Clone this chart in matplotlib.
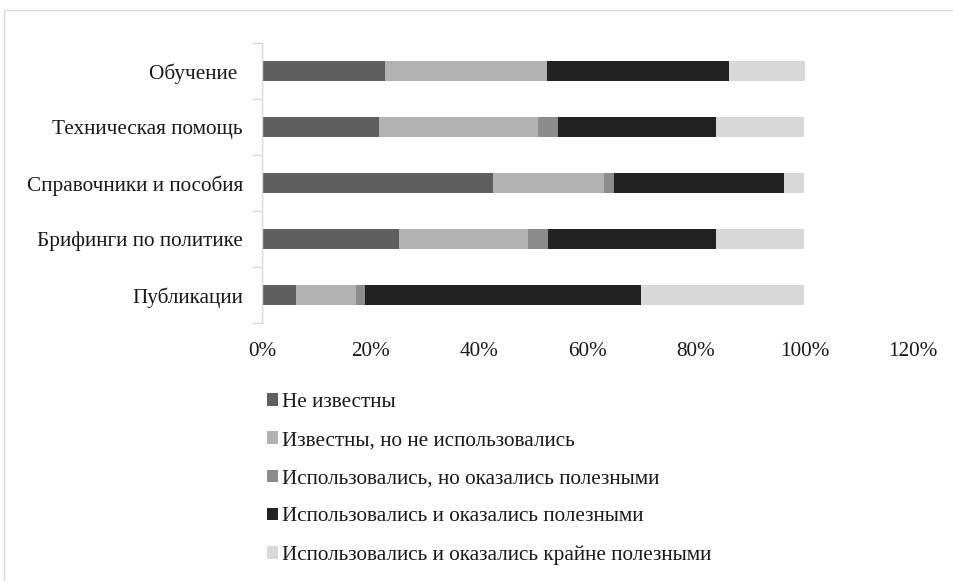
import matplotlib
matplotlib.use("Agg")
import matplotlib.pyplot as plt
from matplotlib.patches import Rectangle
import numpy as np

categories = ["Публикации", "Брифинги по политике", "Справочники и пособия",
              "Техническая помощь", "Обучение "]
series_names = ["Не известны", "Известны, но не использовались",
                "Использовались, но оказались полезными",
                "Использовались и оказались полезными",
                "Использовались и оказались крайне полезными"]
not_known = [6.2, 25.3, 42.5, 21.6, 22.7]
known_not_used = [11.2, 23.7, 20.6, 29.2, 29.9]
used_useful_but = [1.6, 3.7, 1.7, 3.7, 0.0]
used_useful = [50.9, 30.9, 31.5, 29.1, 33.4]
used_very_useful = [30.1, 16.4, 3.7, 16.4, 14.0]
xticks = [0, 20, 40, 60, 80, 100, 120]
xtick_labels = ["0%", "20%", "40%", "60%", "80%", "100%", "120%"]

colors = ["#5f5f5f", "#b2b2b2", "#8c8c8c", "#222222", "#d9d9d9"]
series = [not_known, known_not_used, used_useful_but, used_useful, used_very_useful]

plt.rcParams['font.family'] = ['Liberation Serif', 'DejaVu Serif']
FS = 15.3

fig = plt.figure(figsize=(9.54, 5.81), dpi=100)
ax = fig.add_axes([262/954, 1-323/581, (913-262)/954, (323-43)/581])

y = np.arange(len(categories))
left = np.zeros(len(categories))
handles = []
for vals, c, name in zip(series, colors, series_names):
    b = ax.barh(y, vals, left=left, height=0.35, color=c, label=name,
                edgecolor='none')
    handles.append(b)
    left = left + np.array(vals)

ax.set_xlim(0, 120)
ax.set_ylim(-0.5, len(categories) - 0.5)
ax.set_xticks(xticks)
ax.set_xticklabels(xtick_labels, fontsize=FS, color='#1a1a1a')
ax.tick_params(axis='x', length=0, pad=13.5)

ax.set_yticks(np.arange(-0.5, len(categories), 1.0))
ax.set_yticklabels([])
ax.set_yticks(y, minor=True)
ax.set_yticklabels(categories, minor=True, fontsize=FS, color='#1a1a1a')
ax.tick_params(axis='y', which='major', length=7, width=1, color='#d9d9d9', direction='out')
ax.tick_params(axis='y', which='minor', length=0, pad=13.7)

for s in ['top', 'right', 'bottom']:
    ax.spines[s].set_visible(False)
ax.spines['left'].set_color('#d9d9d9')
ax.spines['left'].set_linewidth(1)

leg = fig.legend(handles=handles, labels=series_names, loc='upper left',
                 bbox_to_anchor=(267/954, 1-393/581), frameon=False,
                 fontsize=FS, handlelength=0.52, handleheight=0.52,
                 handletextpad=0.2, labelspacing=0.90, borderpad=0,
                 borderaxespad=0)
for t in leg.get_texts():
    t.set_color('#1a1a1a')

fig.patches.append(Rectangle((4/954, -0.1), 1.0, 1.1-10/581, transform=fig.transFigure,
                             fill=False, edgecolor='#d9d9d9', linewidth=1))

fig.savefig("out.png", dpi=100)
